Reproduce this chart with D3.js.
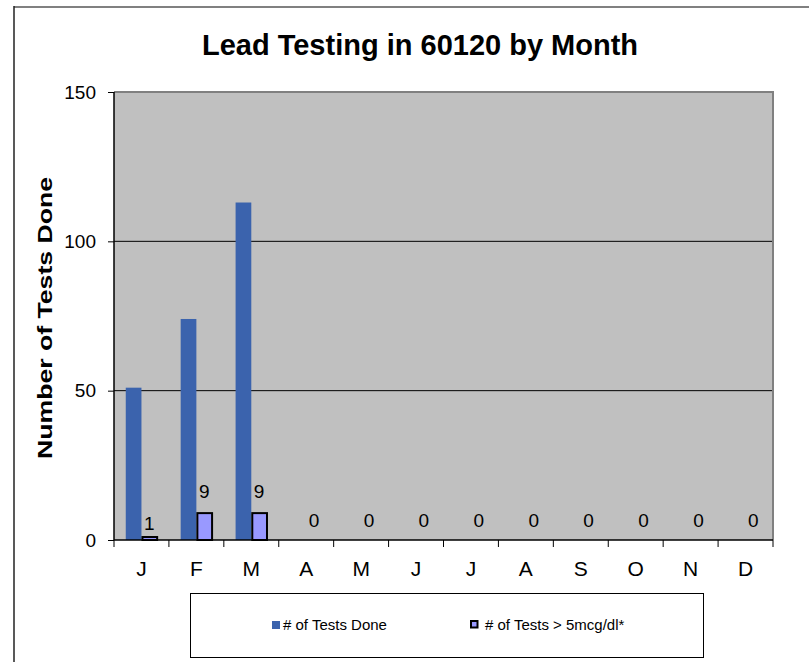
<!DOCTYPE html>
<html><head><meta charset="utf-8">
<script src="https://cdn.jsdelivr.net/npm/d3@7"></script>
<style>body{margin:0;background:#fff}svg{display:block}text{font-family:"Liberation Sans",Arial,sans-serif}</style>
</head><body>
<svg id="c" width="809" height="662"></svg>
<script>
const months = ["J","F","M","A","M","J","J","A","S","O","N","D"];
const testsDone = [51,74,113,null,null,null,null,null,null,null,null,null];
const testsHigh = [1,9,9,0,0,0,0,0,0,0,0,0];
const yTicks = [0,50,100,150];
const seriesNames = ["# of Tests Done","# of Tests > 5mcg/dl*"];

const svg = d3.select("#c");
const L=114, R=773, T=92, B=540;
const idx = months.map((m,i)=>i);
const x = d3.scaleBand().domain(idx).range([L,R]);
const y = d3.scaleLinear().domain([0,150]).range([B,T]);
const bw = 15.7;

// outer chart border
svg.append("line").attr("x1",14).attr("x2",809).attr("y1",7).attr("y2",7).attr("stroke","#808080").attr("stroke-width",2);
svg.append("line").attr("x1",14).attr("x2",14).attr("y1",6).attr("y2",662).attr("stroke","#222").attr("stroke-width",1.5);

// title
svg.append("text").attr("x",420).attr("y",55).attr("text-anchor","middle")
  .attr("font-size",29).attr("font-weight","bold").text("Lead Testing in 60120 by Month");

// plot bg
svg.append("rect").attr("x",L).attr("y",T).attr("width",R-L).attr("height",B-T).attr("fill","#C0C0C0");
// gridlines
svg.append("g").selectAll("line").data(yTicks.filter(v=>v>0&&v<150)).join("line")
  .attr("x1",L).attr("x2",R).attr("y1",d=>y(d)).attr("y2",d=>y(d)).attr("stroke","#000").attr("stroke-width",1);
// plot border top/right
svg.append("path").attr("d",`M${L},${T}H${R}V${B}`).attr("fill","none").attr("stroke","#808080").attr("stroke-width",2);

// bars
svg.append("g").selectAll("rect").data(idx.filter(i=>testsDone[i]!=null)).join("rect")
  .attr("x",i=>x(i)+x.bandwidth()/2-bw).attr("width",bw)
  .attr("y",i=>y(testsDone[i])).attr("height",i=>B-y(testsDone[i])).attr("fill","#3B63AD");
svg.append("g").selectAll("rect").data(idx.filter(i=>testsHigh[i]>0)).join("rect")
  .attr("x",i=>x(i)+x.bandwidth()/2+1).attr("width",bw-1)
  .attr("y",i=>y(testsHigh[i])).attr("height",i=>B-y(testsHigh[i])).attr("fill","#9999FF")
  .attr("stroke","#000").attr("stroke-width",2);
// data labels
svg.append("g").selectAll("text").data(idx).join("text")
  .attr("x",i=>x(i)+x.bandwidth()/2+bw/2)
  .attr("y",i=>y(testsHigh[i])-(testsHigh[i]>5?15:testsHigh[i]>0?7:13))
  .attr("text-anchor","middle").attr("font-size",19).text(i=>testsHigh[i]);

// y axis
const ya = svg.append("g").attr("transform",`translate(${L},0)`)
  .call(d3.axisLeft(y).tickValues(yTicks).tickSize(6).tickPadding(12).tickFormat(d3.format("d")));
ya.select(".domain").attr("stroke","#000").attr("stroke-width",1.5).attr("d",`M0,${T}V${B}`);
ya.selectAll(".tick line").attr("stroke","#000");
ya.selectAll("text").attr("font-size",19).attr("fill","#000").attr("font-family","Liberation Sans, Arial, sans-serif");

// x axis
const xa = svg.append("g").attr("transform",`translate(0,${B})`);
xa.append("line").attr("x1",L).attr("x2",R).attr("stroke","#000").attr("stroke-width",1.5);
xa.selectAll("line.t").data(d3.range(13)).join("line").attr("class","t")
  .attr("x1",i=>L+i*x.step()).attr("x2",i=>L+i*x.step()).attr("y1",0).attr("y2",7).attr("stroke","#000");
xa.selectAll("text").data(idx).join("text").attr("x",i=>x(i)+x.bandwidth()/2).attr("y",36)
  .attr("text-anchor","middle").attr("font-size",21).text(i=>months[i]);

// y label
svg.append("text").attr("transform","translate(52,318) rotate(-90)").attr("text-anchor","middle")
  .attr("font-size",21).attr("font-weight","bold").attr("textLength",282).attr("lengthAdjust","spacingAndGlyphs")
  .text("Number of Tests Done");

// legend
const lg = svg.append("g");
lg.append("rect").attr("x",190.5).attr("y",593.5).attr("width",513).attr("height",64).attr("fill","#fff").attr("stroke","#000");
lg.append("rect").attr("x",272).attr("y",621).attr("width",8).attr("height",8).attr("fill","#3B63AD");
lg.append("text").attr("x",283).attr("y",630).attr("font-size",15).text(seriesNames[0]);
lg.append("rect").attr("x",471).attr("y",621).attr("width",6.5).attr("height",6.5).attr("fill","#9999FF").attr("stroke","#000").attr("stroke-width",2);
lg.append("text").attr("x",485).attr("y",630).attr("font-size",15).text(seriesNames[1]);
</script>
</body></html>
